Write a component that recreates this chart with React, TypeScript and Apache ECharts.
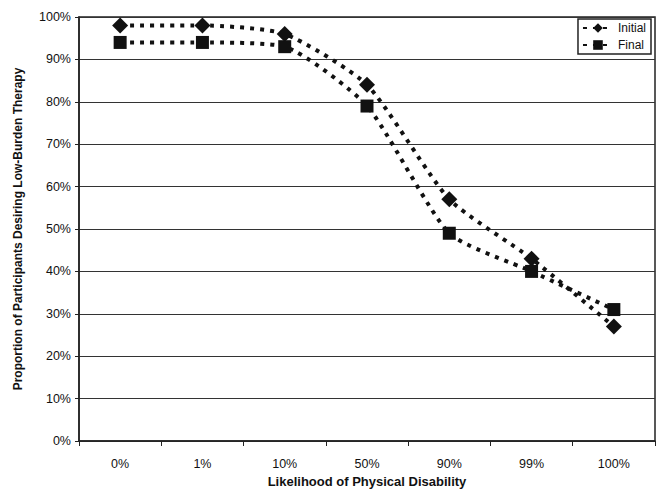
import React, { useEffect, useRef } from "react";
import * as echarts from "echarts";

const categories = ["0%", "1%", "10%", "50%", "90%", "99%", "100%"];
const initialValues = [98, 98, 96, 84, 57, 43, 27];
const finalValues = [94, 94, 93, 79, 49, 40, 31];

export default function App() {
  const ref = useRef<HTMLDivElement>(null);
  useEffect(() => {
    if (!ref.current) return;
    document.body.style.margin = "0";
    const chart = echarts.init(ref.current, null, { renderer: "svg" });
    const font = "'Liberation Sans', Arial, sans-serif";
    const lineStyle = { color: "#111", width: 4, type: [4, 6] as any };
    chart.setOption({
      animation: false,
      backgroundColor: "#fff",
      textStyle: { fontFamily: font },
      grid: {
        left: 79,
        right: 5,
        top: 17,
        bottom: 54,
        show: true,
        borderColor: "#222",
        borderWidth: 1.5,
      },
      legend: {
        right: 9,
        top: 19,
        orient: "vertical",
        backgroundColor: "#fff",
        borderColor: "#222",
        borderWidth: 1.5,
        borderRadius: 0,
        padding: [3, 5, 3, 4],
        itemGap: 5,
        itemWidth: 30,
        itemHeight: 12,
        textStyle: { fontFamily: font, fontSize: 12, color: "#111" },
        data: ["Initial", "Final"],
      },
      xAxis: {
        type: "category",
        data: categories,
        boundaryGap: true,
        name: "Likelihood of Physical Disability",
        nameLocation: "middle",
        nameGap: 34,
        nameTextStyle: { fontFamily: font, fontSize: 13, fontWeight: "bold", color: "#111" },
        axisLine: { lineStyle: { color: "#222", width: 1.5 } },
        axisTick: { show: true, alignWithLabel: false, length: 5, lineStyle: { color: "#222" } },
        axisLabel: { fontFamily: font, fontSize: 12.5, color: "#111", margin: 16 },
      },
      yAxis: {
        type: "value",
        min: 0,
        max: 100,
        interval: 10,
        name: "Proportion of Participants Desiring Low-Burden Therapy",
        nameLocation: "middle",
        nameGap: 55,
        nameTextStyle: { fontFamily: font, fontSize: 12, fontWeight: "bold", color: "#111" },
        axisLine: { show: true, lineStyle: { color: "#222", width: 1.5 } },
        axisTick: { show: true, length: 4, lineStyle: { color: "#222" } },
        axisLabel: { fontFamily: font, fontSize: 12.5, color: "#111", formatter: "{value}%" },
        splitLine: { lineStyle: { color: "#333", width: 1.2 } },
      },
      series: [
        {
          name: "Initial",
          type: "line",
          data: initialValues,
          smooth: 0.2,
          symbol: "diamond",
          symbolSize: 16,
          itemStyle: { color: "#111" },
          lineStyle,
        },
        {
          name: "Final",
          type: "line",
          data: finalValues,
          smooth: 0.2,
          symbol: "rect",
          symbolSize: 13,
          itemStyle: { color: "#111" },
          lineStyle,
        },
      ],
    });
    return () => chart.dispose();
  }, []);
  return <div ref={ref} style={{ width: 660, height: 495 }} />;
}
